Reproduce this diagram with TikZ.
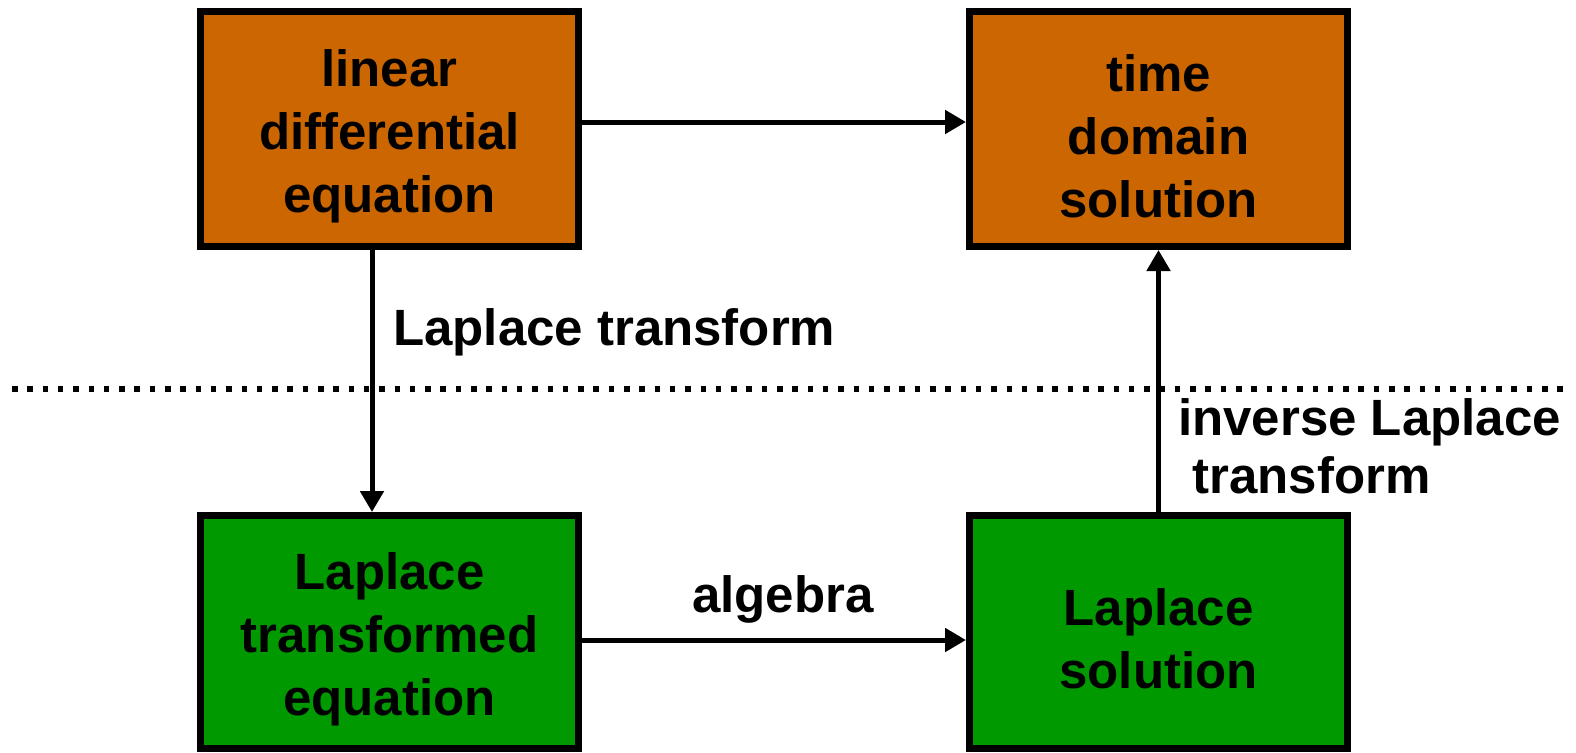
\documentclass[tikz,border=0pt]{standalone}
\usepackage{fontspec}
\setmainfont{Liberation Sans}
\usetikzlibrary{arrows.meta}
\definecolor{boxorange}{RGB}{204,102,0}
\definecolor{boxgreen}{RGB}{0,153,0}
\newcommand{\firstup}{\rule{0pt}{51pt}}
\tikzset{
  blockbox/.style={draw=black, line width=7pt, minimum width=378pt, minimum height=235pt,
    align=center, inner sep=0pt, font=\bfseries\fontsize{51}{63}\selectfont},
  orangebox/.style={blockbox, fill=boxorange},
  greenbox/.style={blockbox, fill=boxgreen},
  conn/.style={line width=5pt, -{Triangle[length=21pt,width=23pt]}},
  lbl/.style={inner sep=0pt, font=\bfseries\fontsize{51}{58}\selectfont},
  divider/.style={line width=5.5pt, dash pattern=on 5.5pt off 9.8pt}
}
\begin{document}
\begin{tikzpicture}[x=1pt,y=-1pt]
\useasboundingbox (0,0) rectangle (1576,752);
\node[orangebox] (lde) at (389.5,129) {\firstup linear\\differential\\equation};
\node[orangebox] (tds) at (1158.5,129) {\firstup time\\domain\\solution};
\node[greenbox, minimum height=233pt] (lte) at (389.5,632) {\firstup Laplace\\transformed\\equation};
\node[greenbox, minimum height=233pt] (ls) at (1158.5,632) {\firstup Laplace\\solution};
\coordinate (dl) at (12,389);
\coordinate (dr) at (1564,389);
\draw[divider] (dl) -- (dr);
\draw[conn] ([yshift=7pt]lde.east) -- ([yshift=7pt]tds.west);
\draw[conn] ([xshift=-17.5pt]lde.south) -- ([xshift=-17.5pt]lte.north);
\draw[conn] ([yshift=-8pt]lte.east) -- ([yshift=-8pt]ls.west);
\draw[conn] (ls.north) -- (tds.south);
\node[lbl, anchor=base west] (lt) at (393,345) {Laplace transform};
\node[lbl, anchor=base west] (alg) at (692,612) {algebra};
\node[lbl, anchor=north west, align=left] (ilt) at (1178,398) {inverse Laplace\\\hspace{0.278em}transform};
\end{tikzpicture}
\end{document}
